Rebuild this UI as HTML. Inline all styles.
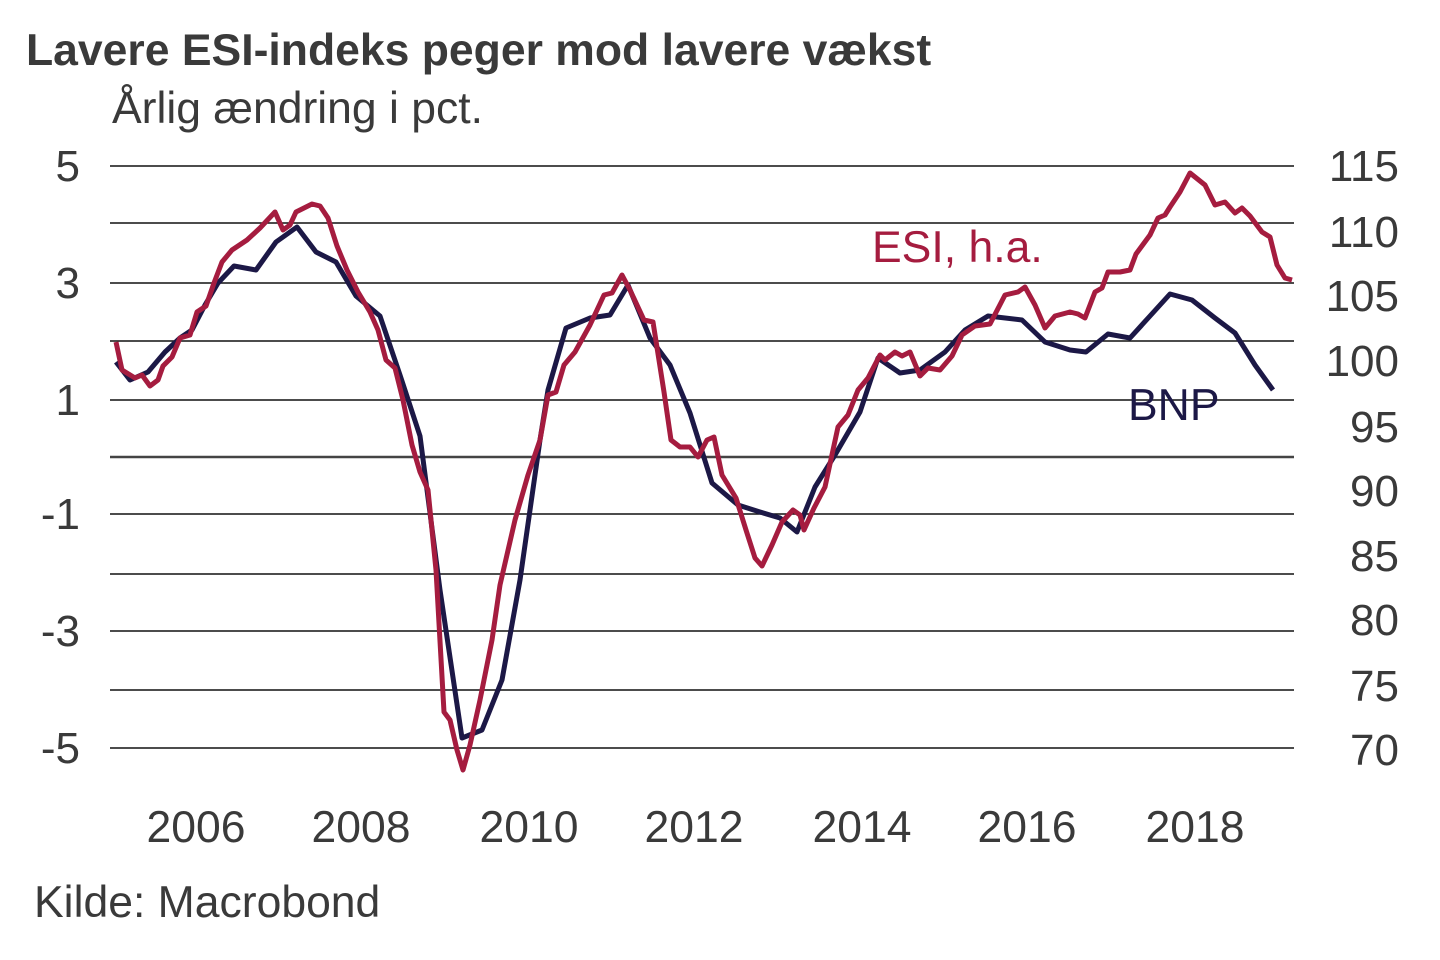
<!DOCTYPE html>
<html><head><meta charset="utf-8"><style>
html,body{margin:0;padding:0;background:#fff;}
svg{display:block;}
text{font-family:"Liberation Sans",Arial,sans-serif;}
</style></head><body>
<svg width="1440" height="960" viewBox="0 0 1440 960" xmlns="http://www.w3.org/2000/svg">
<rect width="1440" height="960" fill="#fff"/>
<text x="26" y="65" font-size="44.5" font-weight="bold" fill="#3a3a3a">Lavere ESI-indeks peger mod lavere vækst</text>
<text x="112" y="123" font-size="44.5" fill="#3a3a3a">Årlig ændring i pct.</text>
<g stroke="#111" stroke-width="1.6">
<line x1="110" x2="1294" y1="166" y2="166"/>
<line x1="110" x2="1294" y1="223" y2="223"/>
<line x1="110" x2="1294" y1="283" y2="283"/>
<line x1="110" x2="1294" y1="341" y2="341"/>
<line x1="110" x2="1294" y1="400" y2="400"/>
<line x1="110" x2="1294" y1="457" y2="457" stroke-width="2.6" stroke="#444"/>
<line x1="110" x2="1294" y1="514" y2="514"/>
<line x1="110" x2="1294" y1="574" y2="574"/>
<line x1="110" x2="1294" y1="631" y2="631"/>
<line x1="110" x2="1294" y1="690" y2="690"/>
<line x1="110" x2="1294" y1="748" y2="748"/>
</g>
<g font-size="44" fill="#3a3a3a" text-anchor="end">
<text x="80" y="181">5</text>
<text x="80" y="298">3</text>
<text x="80" y="415">1</text>
<text x="80" y="529">-1</text>
<text x="80" y="646">-3</text>
<text x="80" y="763">-5</text>
</g>
<g font-size="44" fill="#3a3a3a" text-anchor="end">
<text x="1399" y="181">115</text>
<text x="1399" y="247">110</text>
<text x="1399" y="311">105</text>
<text x="1399" y="376">100</text>
<text x="1399" y="442">95</text>
<text x="1399" y="506">90</text>
<text x="1399" y="571">85</text>
<text x="1399" y="635">80</text>
<text x="1399" y="701">75</text>
<text x="1399" y="765">70</text>
</g>
<g font-size="44.5" fill="#3a3a3a" text-anchor="middle">
<text x="196" y="842">2006</text>
<text x="361" y="842">2008</text>
<text x="529" y="842">2010</text>
<text x="694" y="842">2012</text>
<text x="862" y="842">2014</text>
<text x="1027" y="842">2016</text>
<text x="1195" y="842">2018</text>
</g>
<text x="34" y="917" font-size="44.5" fill="#3a3a3a">Kilde: Macrobond</text>
<text x="872" y="262" font-size="44.5" fill="#a51c3f">ESI, h.a.</text>
<text x="1128" y="420" font-size="44.5" fill="#1c1846">BNP</text>
<polyline fill="none" stroke="#1c1846" stroke-width="5" stroke-linejoin="round" points="116,362 130,380 148,372 165,352 180,338 192,330 205,305 218,283 234,266 256,270 276,242 297,227 316,252 336,262 356,296 380,316 400,375 420,436 440,590 462,738 482,730 502,680 520,580 540,440 548,390 566,328 590,318 610,315 628,285 650,338 670,365 690,413 712,483 738,505 760,512 780,518 797,532 815,487 835,455 860,412 878,358 900,373 920,370 945,352 965,330 988,316 1022,320 1045,342 1070,350 1086,352 1108,334 1130,338 1150,316 1170,294 1192,300 1215,318 1235,333 1255,365 1273,390"/>
<polyline fill="none" stroke="#a51c3f" stroke-width="5" stroke-linejoin="round" points="116,342 122,370 135,378 142,375 150,386 158,380 163,366 172,357 180,338 190,335 197,312 206,306 214,283 222,262 232,250 247,240 260,228 275,212 283,230 290,225 296,212 312,204 320,206 328,218 337,246 347,270 358,292 370,312 378,330 386,360 395,368 403,400 412,445 420,472 428,490 436,570 444,712 450,720 457,750 463,770 470,745 480,700 492,640 500,585 515,520 528,475 540,440 548,395 556,392 564,365 575,352 590,325 604,295 612,293 622,275 630,290 644,320 653,322 664,392 671,440 680,447 690,447 698,457 707,440 714,437 722,475 736,498 746,530 755,558 762,566 772,545 782,522 793,510 800,515 804,530 814,508 825,487 838,427 848,415 858,390 868,378 880,355 885,360 895,352 902,356 910,352 920,376 928,368 940,370 952,356 962,335 975,326 990,324 1005,295 1018,292 1025,287 1035,305 1045,328 1055,316 1070,312 1078,314 1085,318 1095,292 1102,288 1108,272 1120,272 1130,270 1136,254 1150,235 1158,218 1165,215 1170,207 1180,192 1190,173 1205,185 1215,205 1225,202 1235,213 1242,208 1250,216 1262,232 1270,237 1277,265 1285,278 1292,280"/>
</svg>
</body></html>
